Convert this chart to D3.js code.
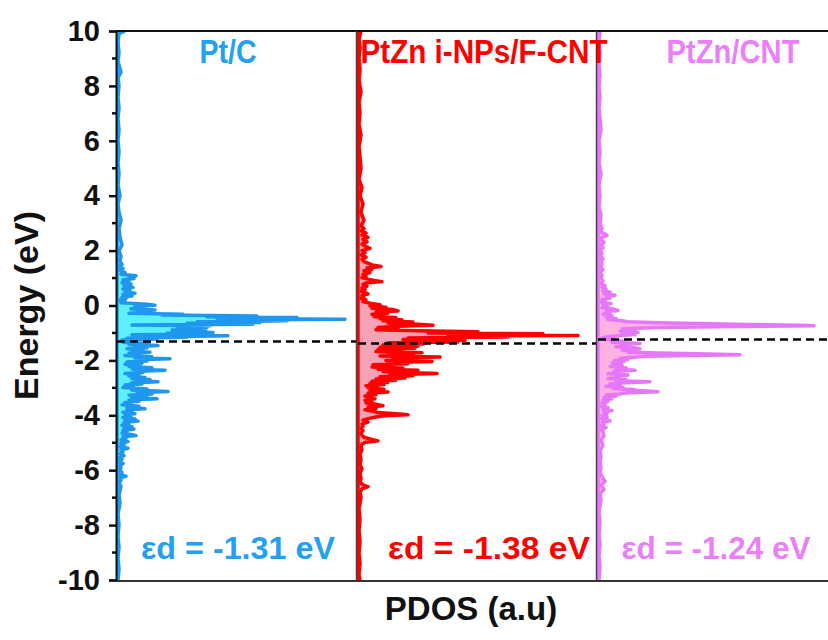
<!DOCTYPE html>
<html>
<head>
<meta charset="utf-8">
<script src="https://cdn.jsdelivr.net/npm/d3@7"></script>
<style>
  html, body { margin: 0; padding: 0; background: #ffffff; }
  svg { display: block; font-family: "Liberation Sans", Arial, sans-serif; font-weight: bold; }
</style>
</head>
<body>
<svg id="chart" width="828" height="640"></svg>
<script>
// ---- data -------------------------------------------------------------
const panelTitles = ["Pt/C", "PtZn i-NPs/F-CNT", "PtZn/CNT"];
const dBandCenters = [-1.31, -1.38, -1.24];
const energyTicks = [-10, -8, -6, -4, -2, 0, 2, 4, 6, 8, 10];
const energyTickLabels = ["-10", "-8", "-6", "-4", "-2", "0", "2", "4", "6", "8", "10"];

// d-projected DOS, [energy (eV), PDOS (a.u.)]
const dosPtC = [
  [10.0, 8], [9.9, 2], [9.6, 1], [9.2, 2], [8.9, 1], [8.5, 4], [8.3, 1], [8.0, 2], [7.6, 1],
  [7.2, 2], [6.8, 1], [6.4, 2], [6.0, 1], [5.6, 2], [5.2, 1], [4.8, 2], [4.4, 1], [4.0, 3],
  [3.7, 1], [3.4, 2], [3.1, 4], [2.8, 2], [2.5, 3], [2.2, 5], [2.0, 2], [1.8, 4], [1.6, 3],
  [1.5, 5], [1.42, 2], [1.35, 6], [1.28, 3], [1.2, 8], [1.14, 4], [1.08, 19], [1.03, 12],
  [0.98, 17], [0.93, 6], [0.88, 12], [0.83, 5], [0.78, 14], [0.72, 7], [0.66, 16], [0.6, 6],
  [0.55, 13], [0.5, 8], [0.45, 18], [0.4, 6], [0.35, 15], [0.3, 5], [0.25, 9], [0.2, 3],
  [0.15, 8], [0.1, 4], [0.05, 30], [0.01, 38], [-0.04, 18], [-0.08, 28], [-0.12, 14],
  [-0.16, 38], [-0.2, 22], [-0.24, 32], [-0.28, 12], [-0.32, 66], [-0.35, 45], [-0.38, 140],
  [-0.41, 90], [-0.44, 180], [-0.47, 100], [-0.5, 228], [-0.53, 110], [-0.56, 170], [-0.59, 80],
  [-0.62, 143], [-0.65, 70], [-0.68, 136], [-0.71, 15], [-0.74, 93], [-0.77, 60], [-0.8, 90],
  [-0.83, 70], [-0.86, 80], [-0.89, 55], [-0.92, 89], [-0.95, 65], [-0.98, 96], [-1.01, 50],
  [-1.04, 92], [-1.07, 15], [-1.1, 111], [-1.13, 60], [-1.16, 70], [-1.19, 10], [-1.22, 40],
  [-1.26, 5], [-1.3, 20], [-1.34, 6], [-1.38, 32], [-1.42, 12], [-1.46, 41], [-1.5, 18],
  [-1.54, 30], [-1.58, 10], [-1.62, 26], [-1.66, 15], [-1.7, 33], [-1.74, 12], [-1.78, 22],
  [-1.82, 8], [-1.87, 35], [-1.91, 18], [-1.94, 53], [-1.98, 20], [-2.02, 30], [-2.06, 10],
  [-2.1, 25], [-2.14, 8], [-2.18, 23], [-2.22, 12], [-2.27, 35], [-2.31, 15], [-2.36, 48],
  [-2.4, 18], [-2.44, 26], [-2.48, 8], [-2.53, 22], [-2.57, 12], [-2.62, 28], [-2.66, 15],
  [-2.7, 33], [-2.74, 18], [-2.78, 41], [-2.82, 14], [-2.86, 25], [-2.9, 8], [-2.95, 16],
  [-2.99, 6], [-3.04, 30], [-3.08, 15], [-3.13, 51], [-3.17, 20], [-3.22, 35], [-3.27, 12],
  [-3.32, 30], [-3.36, 15], [-3.4, 40], [-3.44, 12], [-3.49, 22], [-3.53, 8], [-3.58, 13],
  [-3.62, 5], [-3.67, 22], [-3.71, 10], [-3.76, 28], [-3.8, 10], [-3.85, 15], [-3.89, 6],
  [-3.94, 18], [-3.98, 8], [-4.03, 14], [-4.08, 6], [-4.13, 18], [-4.17, 8], [-4.21, 21],
  [-4.26, 7], [-4.31, 12], [-4.36, 5], [-4.42, 15], [-4.46, 7], [-4.5, 17], [-4.55, 6],
  [-4.6, 10], [-4.65, 5], [-4.7, 14], [-4.74, 19], [-4.78, 6], [-4.84, 9], [-4.9, 4],
  [-4.96, 11], [-5.02, 4], [-5.08, 7], [-5.14, 3], [-5.2, 11], [-5.26, 4], [-5.33, 6],
  [-5.4, 3], [-5.47, 7], [-5.54, 3], [-5.6, 5], [-5.68, 2], [-5.76, 6], [-5.84, 3], [-5.92, 4],
  [-6.0, 2], [-6.08, 5], [-6.16, 3], [-6.22, 9], [-6.28, 3], [-6.36, 4], [-6.45, 2], [-6.6, 4],
  [-6.9, 2], [-7.2, 3], [-7.6, 1], [-8.0, 2], [-8.4, 1], [-8.8, 2], [-9.2, 1], [-9.6, 2],
  [-10.0, 1]
];

const dosPtZnFCNT = [
  [10.0, 3], [9.7, 1], [9.4, 2], [9.0, 1], [8.6, 2], [8.2, 1], [7.8, 3], [7.4, 1], [7.0, 2],
  [6.6, 1], [6.2, 3], [5.8, 1], [5.4, 2], [5.0, 3], [4.6, 1], [4.3, 4], [4.0, 2], [3.7, 5],
  [3.4, 3], [3.1, 6], [2.9, 3], [2.8, 6], [2.72, 3], [2.64, 8], [2.56, 4], [2.48, 10],
  [2.4, 5], [2.32, 9], [2.24, 4], [2.16, 7], [2.08, 12], [2.0, 4], [1.92, 7], [1.84, 3],
  [1.76, 8], [1.68, 4], [1.6, 6], [1.54, 10], [1.48, 14], [1.42, 23], [1.37, 9], [1.32, 14],
  [1.27, 6], [1.2, 12], [1.14, 5], [1.08, 8], [1.02, 4], [0.96, 10], [0.91, 16], [0.87, 24],
  [0.82, 8], [0.77, 5], [0.7, 9], [0.64, 4], [0.58, 7], [0.52, 3], [0.46, 8], [0.42, 10],
  [0.37, 4], [0.32, 6], [0.26, 3], [0.2, 8], [0.14, 5], [0.08, 12], [0.03, 22], [-0.02, 12],
  [-0.06, 28], [-0.1, 14], [-0.15, 35], [-0.2, 40], [-0.24, 18], [-0.28, 30], [-0.32, 14],
  [-0.36, 26], [-0.4, 16], [-0.44, 38], [-0.48, 22], [-0.52, 44], [-0.56, 25], [-0.6, 55],
  [-0.64, 30], [-0.68, 60], [-0.72, 75], [-0.76, 40], [-0.8, 20], [-0.84, 40], [-0.88, 18],
  [-0.92, 60], [-0.96, 120], [-1.0, 70], [-1.03, 185], [-1.06, 120], [-1.09, 220],
  [-1.12, 90], [-1.15, 150], [-1.18, 50], [-1.21, 92], [-1.24, 45], [-1.27, 107], [-1.3, 50],
  [-1.33, 100], [-1.36, 30], [-1.4, 65], [-1.44, 25], [-1.48, 60], [-1.52, 22], [-1.56, 57],
  [-1.6, 20], [-1.64, 45], [-1.68, 18], [-1.72, 64], [-1.76, 30], [-1.8, 55], [-1.84, 22],
  [-1.88, 82], [-1.92, 35], [-1.96, 60], [-2.0, 28], [-2.04, 74], [-2.08, 30], [-2.12, 50],
  [-2.16, 15], [-2.2, 37], [-2.24, 14], [-2.28, 45], [-2.32, 20], [-2.36, 60], [-2.4, 25],
  [-2.44, 50], [-2.48, 79], [-2.52, 32], [-2.56, 55], [-2.6, 22], [-2.64, 47], [-2.68, 18],
  [-2.72, 38], [-2.76, 14], [-2.8, 30], [-2.84, 12], [-2.88, 26], [-2.92, 8], [-2.96, 20],
  [-3.0, 10], [-3.05, 26], [-3.1, 12], [-3.15, 30], [-3.2, 10], [-3.25, 18], [-3.3, 7],
  [-3.35, 12], [-3.4, 17], [-3.45, 7], [-3.5, 14], [-3.55, 8], [-3.6, 18], [-3.65, 25],
  [-3.7, 10], [-3.75, 18], [-3.8, 7], [-3.85, 15], [-3.9, 20], [-3.94, 38], [-3.98, 50],
  [-4.02, 26], [-4.06, 18], [-4.12, 10], [-4.18, 5], [-4.25, 10], [-4.32, 4], [-4.4, 5],
  [-4.48, 3], [-4.56, 5], [-4.64, 3], [-4.72, 4], [-4.8, 6], [-4.86, 12], [-4.93, 20],
  [-4.98, 8], [-5.05, 4], [-5.15, 3], [-5.25, 4], [-5.4, 2], [-5.6, 3], [-5.8, 2], [-5.95, 4],
  [-6.1, 2], [-6.3, 3], [-6.45, 2], [-6.55, 6], [-6.6, 10], [-6.68, 4], [-6.8, 2], [-7.0, 3],
  [-7.4, 1], [-7.8, 2], [-8.2, 1], [-8.6, 2], [-9.0, 1], [-9.4, 2], [-9.8, 1], [-10.0, 2]
];

const dosPtZnCNT = [
  [10.0, 2], [9.6, 1], [9.2, 2], [8.8, 1], [8.4, 2], [8.0, 1], [7.6, 2], [7.2, 1], [6.8, 2],
  [6.4, 3], [6.0, 1], [5.6, 2], [5.2, 1], [4.8, 3], [4.4, 1], [4.0, 2], [3.6, 1], [3.3, 3],
  [3.0, 2], [2.8, 4], [2.7, 2], [2.62, 6], [2.55, 9], [2.48, 4], [2.4, 3], [2.3, 6], [2.2, 3],
  [2.1, 5], [2.0, 2], [1.9, 4], [1.8, 2], [1.7, 5], [1.6, 3], [1.5, 4], [1.4, 2], [1.3, 5],
  [1.2, 2], [1.1, 4], [1.0, 3], [0.9, 5], [0.8, 3], [0.73, 7], [0.66, 4], [0.6, 8], [0.54, 5],
  [0.48, 12], [0.43, 6], [0.37, 17], [0.32, 9], [0.27, 12], [0.22, 4], [0.17, 7], [0.12, 3],
  [0.07, 13], [0.02, 5], [-0.03, 10], [-0.08, 4], [-0.13, 16], [-0.18, 20], [-0.22, 8],
  [-0.27, 12], [-0.32, 5], [-0.37, 14], [-0.42, 8], [-0.47, 18], [-0.51, 10], [-0.55, 22],
  [-0.59, 30], [-0.63, 60], [-0.66, 100], [-0.69, 149], [-0.72, 200], [-0.74, 216],
  [-0.77, 120], [-0.8, 60], [-0.83, 37], [-0.86, 24], [-0.9, 37], [-0.94, 22], [-0.98, 40],
  [-1.02, 24], [-1.06, 37], [-1.1, 20], [-1.14, 10], [-1.18, 4], [-1.22, 8], [-1.26, 15],
  [-1.3, 25], [-1.34, 14], [-1.38, 42], [-1.42, 24], [-1.46, 30], [-1.5, 18], [-1.54, 36],
  [-1.58, 42], [-1.62, 24], [-1.66, 35], [-1.7, 30], [-1.73, 60], [-1.76, 100], [-1.79, 142],
  [-1.82, 90], [-1.85, 50], [-1.89, 30], [-1.93, 22], [-1.97, 30], [-2.01, 16], [-2.05, 26],
  [-2.1, 14], [-2.14, 20], [-2.18, 24], [-2.22, 12], [-2.27, 28], [-2.31, 18], [-2.36, 37],
  [-2.4, 16], [-2.45, 22], [-2.49, 10], [-2.53, 30], [-2.57, 18], [-2.62, 20], [-2.66, 10],
  [-2.7, 28], [-2.74, 18], [-2.78, 52], [-2.82, 22], [-2.86, 12], [-2.9, 22], [-2.94, 8],
  [-2.98, 25], [-3.02, 15], [-3.06, 35], [-3.1, 40], [-3.14, 60], [-3.18, 30], [-3.22, 22],
  [-3.26, 8], [-3.3, 18], [-3.35, 6], [-3.4, 14], [-3.45, 5], [-3.5, 10], [-3.56, 4],
  [-3.62, 7], [-3.67, 3], [-3.72, 10], [-3.78, 5], [-3.83, 14], [-3.88, 6], [-3.94, 9],
  [-4.0, 4], [-4.06, 9], [-4.12, 3], [-4.2, 12], [-4.26, 4], [-4.32, 6], [-4.38, 3],
  [-4.45, 8], [-4.52, 3], [-4.6, 5], [-4.75, 6], [-4.9, 3], [-5.1, 5], [-5.3, 2], [-5.5, 3],
  [-5.7, 2], [-5.9, 3], [-6.1, 2], [-6.3, 5], [-6.4, 7], [-6.55, 3], [-6.7, 6], [-6.85, 2],
  [-7.1, 3], [-7.5, 1], [-7.9, 2], [-8.3, 1], [-8.7, 2], [-9.1, 1], [-9.5, 2], [-10.0, 1]
];

const seriesDos = [dosPtC, dosPtZnFCNT, dosPtZnCNT];

// ---- styling ----------------------------------------------------------
const lineColors = ["#1f97ee", "#ff0000", "#e677f8"];
const fillColors = ["#5cf0f8", "#f4a2b5", "#ffb2e2"];
const titleColors = ["#22a0f2", "#ff0000", "#ea80f8"];

// ---- layout -----------------------------------------------------------
const plotLeft = 116, plotTop = 31, plotBottom = 580, plotRight = 828;
const panelWidth = 240;
const panelLefts = [117, 358, 598];
const titleCenters = [228, 484, 733];
const titleWidths = [57, 247, 133];
const edCenters = [238, 489, 716];
const edWidths = [194, 202, 189];

const svg = d3.select("#chart");

const y = d3.scaleLinear().domain([-10, 10]).range([plotBottom, plotTop]);

// clip so the last panel is cut at the figure edge
svg.append("defs").append("clipPath").attr("id", "plotClip")
  .append("rect").attr("x", plotLeft).attr("y", plotTop - 2)
  .attr("width", plotRight - plotLeft).attr("height", plotBottom - plotTop + 4);

const plot = svg.append("g").attr("clip-path", "url(#plotClip)");

seriesDos.forEach((data, i) => {
  const x = d3.scaleLinear().domain([0, 240]).range([panelLefts[i], panelLefts[i] + panelWidth]);
  const g = plot.append("g");

  const area = d3.area()
    .x0(x(0)).x1(d => x(d[1]))
    .y(d => y(d[0]));
  const line = d3.line()
    .x(d => x(d[1]))
    .y(d => y(d[0]));

  g.append("path").datum(data).attr("d", area).attr("fill", fillColors[i]);
  g.append("path").datum(data).attr("d", line)
    .attr("fill", "none").attr("stroke", lineColors[i])
    .attr("stroke-width", 3.5).attr("stroke-linejoin", "round");
  // baseline of the panel
  g.append("line")
    .attr("x1", x(0)).attr("x2", x(0))
    .attr("y1", y(10)).attr("y2", y(-10))
    .attr("stroke", lineColors[i]).attr("stroke-width", 3.5);

  // d-band centre marker
  g.append("line")
    .attr("x1", x(0)).attr("x2", x(240))
    .attr("y1", y(dBandCenters[i])).attr("y2", y(dBandCenters[i]))
    .attr("stroke", "#000").attr("stroke-width", 2.5)
    .attr("stroke-dasharray", "8,5");
});

// panel frame
const frame = svg.append("g").attr("stroke", "#111").attr("fill", "none");
frame.append("line").attr("x1", plotLeft).attr("x2", plotRight)
  .attr("y1", plotTop).attr("y2", plotTop).attr("stroke-width", 2);
frame.append("line").attr("x1", plotLeft).attr("x2", plotRight)
  .attr("y1", plotBottom + 1).attr("y2", plotBottom + 1).attr("stroke-width", 2).attr("stroke", "#333");
[panelLefts[1] - 1.5, panelLefts[2] - 1.5].forEach(px => {
  frame.append("line").attr("x1", px).attr("x2", px)
    .attr("y1", plotTop).attr("y2", plotBottom + 1).attr("stroke-width", 1.5).attr("stroke", "#444");
});

// left energy axis
const yAxis = d3.axisLeft(y)
  .tickValues(energyTicks)
  .tickFormat((d, i) => energyTickLabels[i])
  .tickSize(7).tickPadding(9);
const axisG = svg.append("g").attr("transform", `translate(${plotLeft},0)`).call(yAxis);
axisG.select(".domain").attr("stroke", "#111").attr("stroke-width", 2);
axisG.selectAll(".tick line").attr("stroke", "#111").attr("stroke-width", 2.5);
axisG.selectAll(".tick text")
  .attr("font-family", "'Liberation Sans', Arial, sans-serif")
  .attr("font-weight", "bold").attr("font-size", 29).attr("fill", "#111");

const minorTicks = d3.range(-9, 10, 2);
svg.append("g").selectAll("line").data(minorTicks).join("line")
  .attr("x1", plotLeft - 4).attr("x2", plotLeft)
  .attr("y1", d => y(d)).attr("y2", d => y(d))
  .attr("stroke", "#111").attr("stroke-width", 2.5);

// axis titles
svg.append("text")
  .attr("transform", `translate(38,${(plotTop + plotBottom) / 2}) rotate(-90)`)
  .attr("text-anchor", "middle").attr("font-size", 34).attr("fill", "#111")
  .text("Energy (eV)");
svg.append("text")
  .attr("x", 471).attr("y", 620)
  .attr("text-anchor", "middle").attr("font-size", 33).attr("fill", "#111")
  .text("PDOS (a.u)");

// panel titles and d-band centre labels
panelTitles.forEach((t, i) => {
  svg.append("text")
    .attr("x", titleCenters[i]).attr("y", 63)
    .attr("text-anchor", "middle").attr("font-size", 33)
    .attr("textLength", titleWidths[i]).attr("lengthAdjust", "spacingAndGlyphs")
    .attr("fill", titleColors[i]).text(t);
  svg.append("text")
    .attr("x", edCenters[i]).attr("y", 559)
    .attr("text-anchor", "middle").attr("font-size", 32)
    .attr("textLength", edWidths[i]).attr("lengthAdjust", "spacingAndGlyphs")
    .attr("fill", titleColors[i])
    .text(`εd = ${dBandCenters[i].toFixed(2)} eV`);
});
</script>
</body>
</html>
